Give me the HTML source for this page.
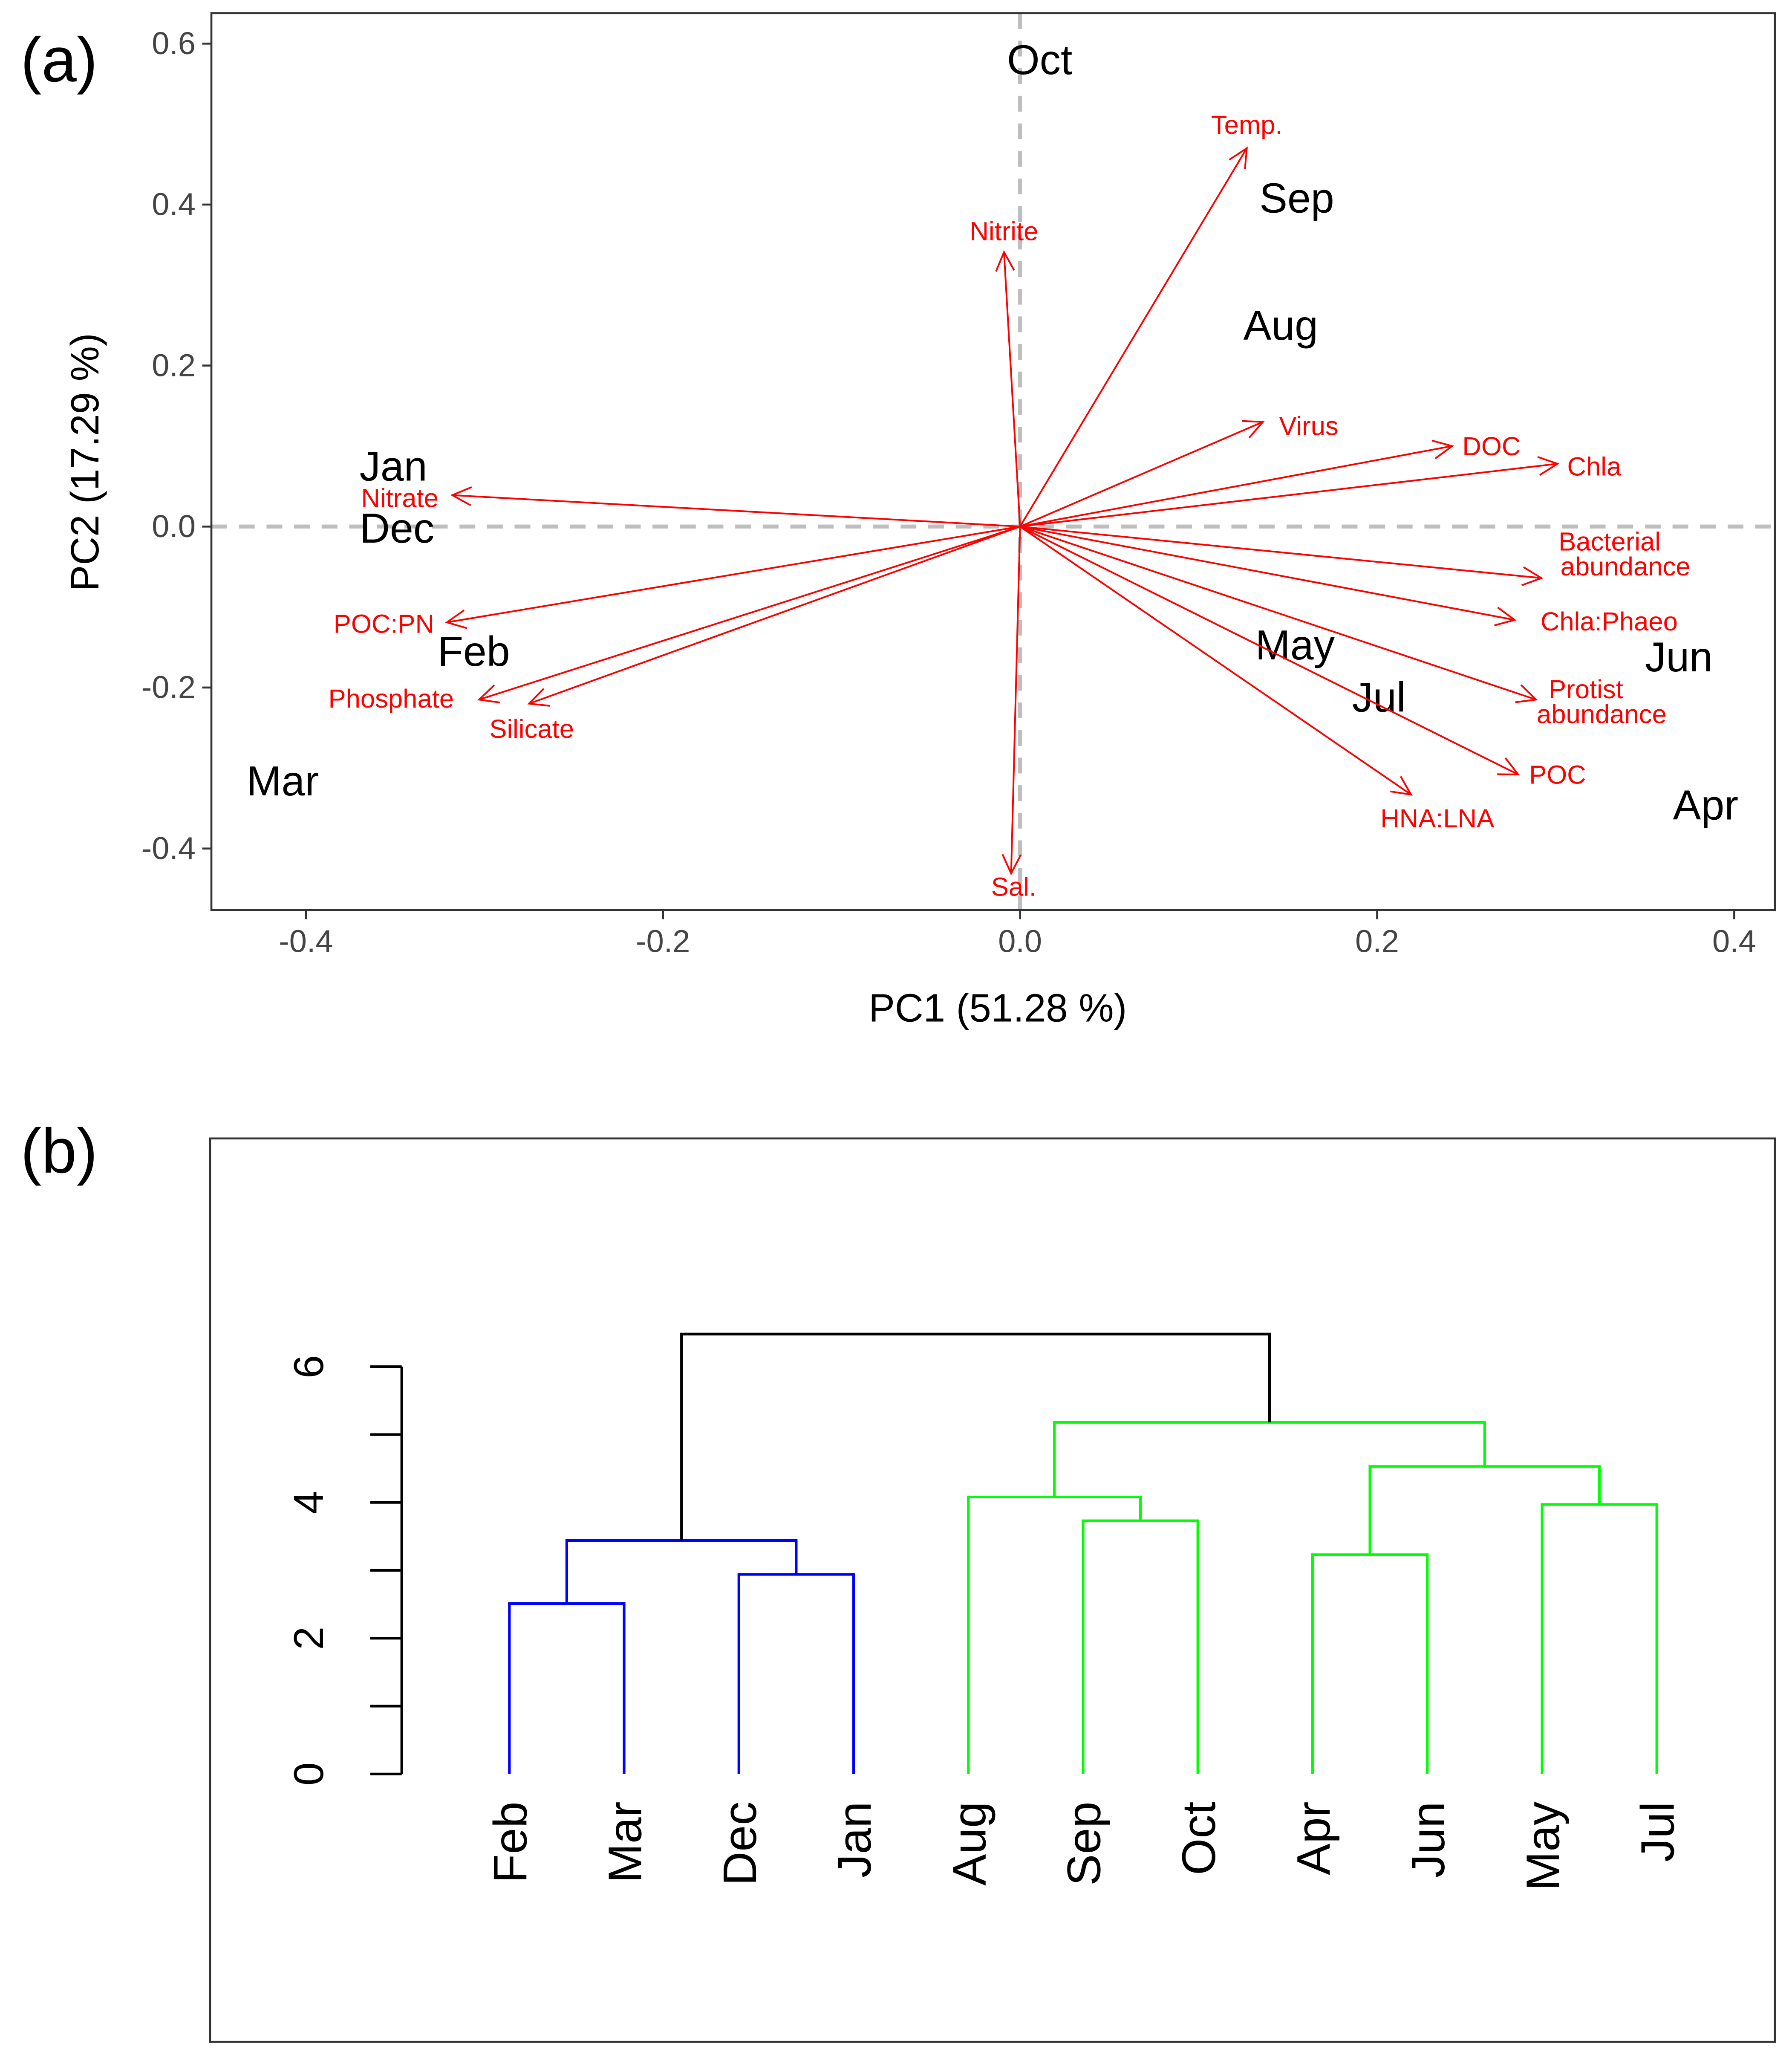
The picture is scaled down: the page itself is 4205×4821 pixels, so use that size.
<!DOCTYPE html>
<html><head><meta charset="utf-8"><style>
html,body{margin:0;padding:0;background:#fff}
svg{display:block}
text{font-family:"Liberation Sans",Arial,sans-serif}
</style></head><body>
<svg id="s" width="4205" height="4821" viewBox="0 0 1365 1565" xmlns="http://www.w3.org/2000/svg">
<rect width="1365" height="1565" fill="#fff"/>
<g id="pa"></g>
<g id="pb"></g>
</svg>
<script>
// ---- PCA data ----
const monthNames=["Oct","Sep","Aug","Jan","Dec","Feb","Mar","May","Jul","Jun","Apr"];
const monthPC1=[0.011,0.155,0.146,-0.351,-0.349,-0.306,-0.413,0.154,0.201,0.369,0.384];
const monthPC2=[0.580,0.408,0.250,0.075,-0.002,-0.155,-0.316,-0.147,-0.212,-0.162,-0.346];
const varNames=["Temp.","Nitrite","Virus","DOC","Chla","Bacterial abundance","Chla:Phaeo","Protist abundance","POC","HNA:LNA","Sal.","Nitrate","POC:PN","Phosphate","Silicate"];
const varPC1=[0.127,-0.009,0.136,0.242,0.301,0.292,0.277,0.289,0.279,0.219,-0.005,-0.318,-0.321,-0.303,-0.275];
const varPC2=[0.470,0.341,0.130,0.100,0.078,-0.064,-0.116,-0.215,-0.308,-0.333,-0.431,0.039,-0.119,-0.215,-0.220];
const xTicks=[-0.4,-0.2,0.0,0.2,0.4];
const yTicks=[-0.4,-0.2,0.0,0.2,0.4,0.6];
// ---- dendrogram data ----
const leafNames=["Feb","Mar","Dec","Jan","Aug","Sep","Oct","Apr","Jun","May","Jul"];
const mergeA=[-1,-3,1,-6,-8,-10,-5,5,7,3];
const mergeB=[-2,-4,2,-7,-9,-11,4,6,8,9];
const mergeH=[2.51,2.94,3.44,3.73,3.23,3.97,4.08,4.53,5.18,6.48];
const mergeColor=["#0000ff","#0000ff","#0000ff","#00ff00","#00ff00","#00ff00","#00ff00","#00ff00","#00ff00","#000000"];
const dTicks=[0,1,2,3,4,5,6];
const dLabels=[0,2,4,6];

const NS="http://www.w3.org/2000/svg";
function mk(p,t,a){const e=document.createElementNS(NS,t);for(const k in a)e.setAttribute(k,a[k]);p.appendChild(e);return e;}
const pa=document.getElementById('pa'), pb=document.getElementById('pb');
const X=v=>777+v*1360, Y=v=>401-v*613;

let e;
e=mk(pa,'text',{x:45,y:62,'font-size':48,'text-anchor':'middle'});e.textContent='(a)';

e=mk(pa,'line',{x1:161,x2:1352,y1:401,y2:401,stroke:'#bebebe','stroke-width':3,'stroke-dasharray':'12,9'});

e=mk(pa,'line',{x1:777,x2:777,y1:10,y2:693,stroke:'#bebebe','stroke-width':3,'stroke-dasharray':'12,9'});

xTicks.forEach(t=>{
 mk(pa,'line',{x1:X(t),x2:X(t),y1:693,y2:700,stroke:'#333','stroke-width':1.5});
 e=mk(pa,'text',{x:X(t),y:725,'font-size':24,fill:'#444','text-anchor':'middle'});e.textContent=t.toFixed(1);
 
});
yTicks.forEach(t=>{
 mk(pa,'line',{x1:154,x2:161,y1:Y(t),y2:Y(t),stroke:'#333','stroke-width':1.5});
 e=mk(pa,'text',{x:149,y:Y(t)+8,'font-size':24,fill:'#444','text-anchor':'end'});e.textContent=t.toFixed(1);
 
});
e=mk(pa,'text',{x:760,y:778,'font-size':30,'text-anchor':'middle'});e.textContent='PC1 (51.28 %)';

e=mk(pa,'text',{x:0,y:0,'font-size':30,'text-anchor':'middle',transform:'translate(75,352) rotate(-90)'});e.textContent='PC2 (17.29 %)';

monthNames.forEach((m,i)=>{
 e=mk(pa,'text',{x:X(monthPC1[i]),y:Y(monthPC2[i])+11,'font-size':32,'text-anchor':'middle'});e.textContent=m;
 
});
const lblOff=[[0,-18],[0,-16],[35,3],[30,0],[28,2],[52,-19],[72,1],[38,1],[30,0],[20,18],[2,10],[-40,2],[-48,1],[-67,-1],[2,19]];
varNames.forEach((n,i)=>{
 const x2=X(varPC1[i]),y2=Y(varPC2[i]);
 e=mk(pa,'line',{x1:777,y1:401,x2:x2,y2:y2,stroke:'#ff0000','stroke-width':1.3});
 
 const ang=Math.atan2(y2-401,x2-777),L=16,w=0.45;
 mk(pa,'polyline',{points:`${x2-L*Math.cos(ang-w)},${y2-L*Math.sin(ang-w)} ${x2},${y2} ${x2-L*Math.cos(ang+w)},${y2-L*Math.sin(ang+w)}`,fill:'none',stroke:'#ff0000','stroke-width':1.3});
 const parts=n.split(' ');
 const lx=x2+lblOff[i][0], ly=y2+lblOff[i][1];
 e=mk(pa,'text',{x:lx,y:ly+7,'font-size':20,fill:'#ff0000','text-anchor':'middle'});
 
 if(parts.length>1){
  const a=mk(e,'tspan',{x:lx,dy:-9});a.textContent=parts[0];
  const b=mk(e,'tspan',{x:lx+12,dy:19});b.textContent=parts[1];
 } else e.textContent=n;
});
e=mk(pa,'rect',{x:161,y:10,width:1191,height:683,fill:'none',stroke:'#333','stroke-width':1.5});


// ---- panel b ----
e=mk(pb,'text',{x:45,y:893,'font-size':48,'text-anchor':'middle'});e.textContent='(b)';

e=mk(pb,'rect',{x:160,y:867,width:1192,height:688,fill:'none',stroke:'#333','stroke-width':1.5});

const LX=i=>388+i*87.4, H=h=>1351-h*51.7;
mk(pb,'line',{x1:306,x2:306,y1:H(0),y2:H(6),stroke:'#000','stroke-width':2});
dTicks.forEach(t=>mk(pb,'line',{x1:282,x2:306,y1:H(t),y2:H(t),stroke:'#000','stroke-width':2}));
dLabels.forEach(t=>{
 e=mk(pb,'text',{x:0,y:0,'font-size':32,'text-anchor':'middle',transform:`translate(246,${H(t)}) rotate(-90)`});e.textContent=t;
 
});
leafNames.forEach((n,i)=>{
 e=mk(pb,'text',{x:0,y:0,'font-size':36,'text-anchor':'end',transform:`translate(${LX(i)+13},1372) rotate(-90)`});e.textContent=n;
 
});
const nodeX=[],nodeH=[];
function pos(r){return r<0?[LX(-r-1),0]:[nodeX[r-1],nodeH[r-1]];}
mergeA.forEach((a,k)=>{
 const [xa,ha]=pos(a),[xb,hb]=pos(mergeB[k]),h=mergeH[k];
 nodeX.push((xa+xb)/2);nodeH.push(h);
 e=mk(pb,'polyline',{points:`${xa},${H(ha)} ${xa},${H(h)} ${xb},${H(h)} ${xb},${H(hb)}`,fill:'none',stroke:mergeColor[k],'stroke-width':2});
 
});
</script>
</body></html>
